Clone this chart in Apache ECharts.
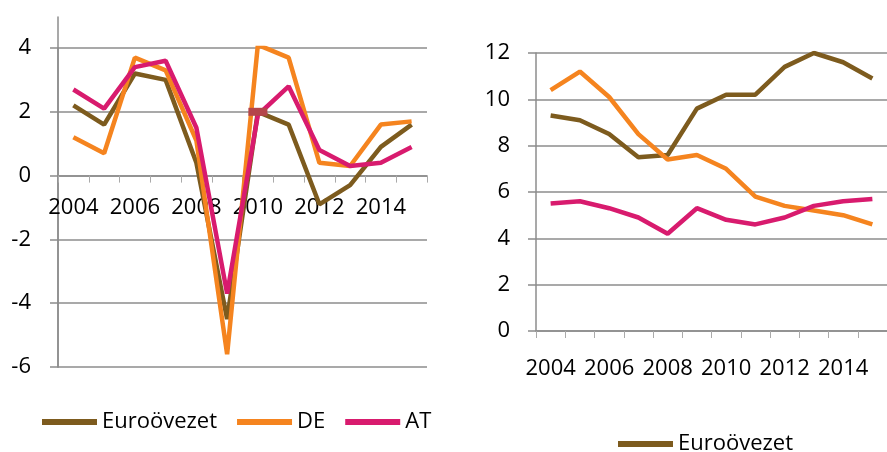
<!DOCTYPE html>
<html>
<head>
<meta charset="utf-8">
<script src="https://cdn.jsdelivr.net/npm/echarts@6/dist/echarts.min.js"></script>
<style>
  html, body { margin: 0; padding: 0; background: #fff; }
  #main { width: 887px; height: 452px; }
</style>
</head>
<body>
<div id="main"></div>
<script>
var years = ['2004','2005','2006','2007','2008','2009','2010','2011','2012','2013','2014','2015'];

// bal oldali ábra: GDP növekedés (%)
var gdpEuro = [2.2, 1.6, 3.2, 3.0, 0.4, -4.5, 2.0, 1.6, -0.9, -0.3, 0.9, 1.6];
var gdpDE   = [1.2, 0.7, 3.7, 3.3, 1.1, -5.6, 4.1, 3.7, 0.4, 0.3, 1.6, 1.7];
var gdpAT   = [2.7, 2.1, 3.4, 3.6, 1.5, -3.7, 1.9, 2.8, 0.8, 0.3, 0.4, 0.9];

// jobb oldali ábra: munkanélküliség (%)
var unEuro = [9.3, 9.1, 8.5, 7.5, 7.6, 9.6, 10.2, 10.2, 11.4, 12.0, 11.6, 10.9];
var unDE   = [10.4, 11.2, 10.1, 8.5, 7.4, 7.6, 7.0, 5.8, 5.4, 5.2, 5.0, 4.6];
var unAT   = [5.5, 5.6, 5.3, 4.9, 4.2, 5.3, 4.8, 4.6, 4.9, 5.4, 5.6, 5.7];

var cEuro = '#7d5b1e', cDE = '#f5841f', cAT = '#d81b6e';
var gridCol = '#8c8c8c';
var font = 'Open Sans';

// bal ábra tengelyei
var leftMin = -6, leftMax = 4, leftH = 319;
// az x tengely a 0 vonalára kerül
var zeroOffset = -(0 - leftMin) / (leftMax - leftMin) * leftH;

var myChart = echarts.init(document.getElementById('main'));

// a 2010-es euróövezeti pont kiemelve
var euroLeft = gdpEuro.map(function (v, i) {
    if (i === 6) {
        return { value: v, symbol: 'rect', symbolSize: [19, 8], itemStyle: { color: '#b4454a' } };
    }
    return v;
});

function lineSeries(name, data, color, xi, yi) {
    return {
        name: name,
        type: 'line',
        xAxisIndex: xi,
        yAxisIndex: yi,
        data: data,
        symbol: 'none',
        showSymbol: true,
        itemStyle: { color: color },
        lineStyle: { color: color, width: 4.5 },
        animation: false
    };
}

var option = {
    backgroundColor: '#fff',
    textStyle: { fontFamily: font },
    grid: [
        { left: 58, top: 48, width: 369, height: leftH },
        { left: 58, top: 17, width: 369, height: leftH + 31 },
        { left: 536, top: 53, width: 355, height: 278 }
    ],
    legend: [
        {
            data: ['Euroövezet', 'DE', 'AT'],
            left: 37, top: 406,
            icon: 'rect', itemWidth: 55, itemHeight: 6, itemGap: 20,
            textStyle: { fontSize: 22, color: '#000', fontFamily: font }
        },
        {
            data: ['Euroövezet'],
            left: 613, top: 428,
            icon: 'rect', itemWidth: 55, itemHeight: 6,
            textStyle: { fontSize: 22, color: '#000', fontFamily: font }
        }
    ],
    xAxis: [
        {
            gridIndex: 0, type: 'category', data: years, boundaryGap: true,
            position: 'bottom', offset: zeroOffset,
            axisLine: { onZero: false, lineStyle: { color: gridCol, width: 1.5 } },
            axisTick: { show: true, interval: 0, length: 7, lineStyle: { color: '#aaa' } },
            axisLabel: { interval: 1, margin: 21, fontSize: 22, color: '#000' },
            splitLine: { show: false }
        },
        {
            gridIndex: 1, type: 'category', data: years, show: false
        },
        {
            gridIndex: 2, type: 'category', data: years, boundaryGap: true,
            axisLine: { lineStyle: { color: gridCol, width: 1.5 } },
            axisTick: { show: true, interval: 0, length: 7, lineStyle: { color: '#aaa' } },
            axisLabel: { interval: 1, margin: 27, fontSize: 22, color: '#000' },
            splitLine: { show: false }
        }
    ],
    yAxis: [
        {
            gridIndex: 0, type: 'value', min: leftMin, max: leftMax, interval: 2,
            axisLine: { show: true, lineStyle: { color: gridCol, width: 1.5 } },
            axisTick: { show: true, length: 8, lineStyle: { color: gridCol, width: 1.5 } },
            axisLabel: { margin: 27, fontSize: 22, color: '#000' },
            splitLine: { show: true, lineStyle: { color: gridCol, width: 1.5 } }
        },
        {
            // csak a függőleges tengelyvonal, ami a 4 fölé is kinyúlik
            gridIndex: 1, type: 'value', min: 0, max: 1,
            axisLine: { show: true, lineStyle: { color: gridCol, width: 1.5 } },
            axisTick: { show: false }, axisLabel: { show: false }, splitLine: { show: false }
        },
        {
            gridIndex: 2, type: 'value', min: 0, max: 12, interval: 2,
            axisLine: { show: true, lineStyle: { color: gridCol, width: 1.5 } },
            axisTick: { show: true, length: 8, lineStyle: { color: gridCol, width: 1.5 } },
            axisLabel: { margin: 26, fontSize: 22, color: '#000' },
            splitLine: { show: true, lineStyle: { color: gridCol, width: 1.5 } }
        }
    ],
    series: [
        lineSeries('Euroövezet', euroLeft, cEuro, 0, 0),
        lineSeries('DE', gdpDE, cDE, 0, 0),
        lineSeries('AT', gdpAT, cAT, 0, 0),
        lineSeries('Euroövezet', unEuro, cEuro, 2, 2),
        lineSeries('DE', unDE, cDE, 2, 2),
        lineSeries('AT', unAT, cAT, 2, 2)
    ]
};
myChart.setOption(option);
</script>
</body>
</html>
